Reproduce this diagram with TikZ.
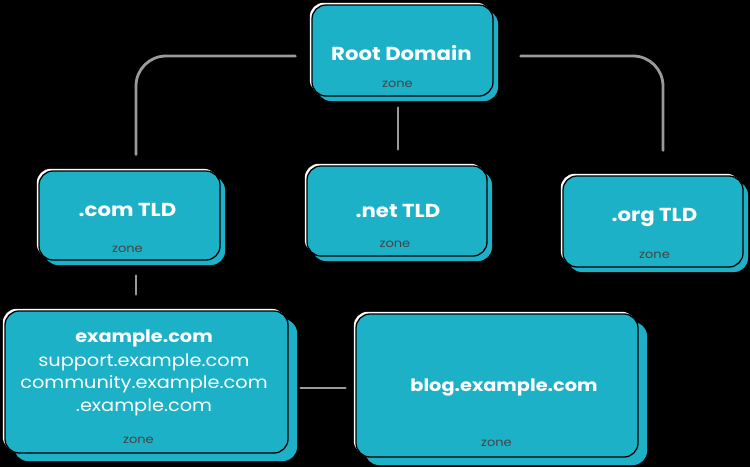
\documentclass[tikz,border=0pt]{standalone}
\usepackage{fontspec}
\setmainfont{Poppins}
\newfontfamily\boxfont[FakeStretch=1.13]{Poppins}
\usetikzlibrary{shadows}
\definecolor{tealbox}{HTML}{1CB1C6}
\definecolor{linegrey}{HTML}{9A9A9A}
\definecolor{zonegrey}{HTML}{444444}
\tikzset{
  boxbase/.style={rectangle, rounded corners=14pt, fill=tealbox, draw=black, line width=1.3pt, inner sep=0pt},
  topbox/.style={boxbase,
    general shadow={shadow xshift=-2.2pt, shadow yshift=2.2pt, fill=white},
    general shadow={shadow xshift=5pt, shadow yshift=-5pt, fill=tealbox}},
  lowbox/.style={boxbase,
    general shadow={shadow xshift=-2.2pt, shadow yshift=2.2pt, fill=white},
    general shadow={shadow xshift=9pt, shadow yshift=-8pt, fill=tealbox}},
  title/.style={text=white, font=\boxfont\fontsize{18.8}{22}\selectfont\bfseries, inner sep=0pt, anchor=base},
  lowtitle/.style={text=white, font=\boxfont\fontsize{17.1}{20}\selectfont\bfseries, inner sep=0pt, anchor=base},
  sub/.style={text=white, font=\boxfont\fontsize{17.1}{20}\selectfont, inner sep=0pt, anchor=base},
  zonelab/.style={text=zonegrey, font=\boxfont\fontsize{11.5}{13}\selectfont, inner sep=0pt, anchor=base},
  conn/.style={draw=linegrey, line width=2.8pt, line cap=round, rounded corners=30pt}
}
\begin{document}
\begin{tikzpicture}[x=1pt, y=-1pt]
\fill[black] (0,0) rectangle (750,467);
\useasboundingbox (0,0) rectangle (750,467);

% boxes
\node[topbox, minimum width=181pt, minimum height=91pt] (root) at (402.5,50.5) {};
\node[topbox, minimum width=181pt, minimum height=89pt] (com) at (129.5,215.5) {};
\node[topbox, minimum width=180pt, minimum height=90pt] (net) at (397,211) {};
\node[topbox, minimum width=180pt, minimum height=91pt] (org) at (653,221.5) {};
\node[lowbox, minimum width=283pt, minimum height=142pt] (ex) at (146.5,382) {};
\node[lowbox, minimum width=282pt, minimum height=143pt] (blog) at (497,385.5) {};

% labels
\node[title] (rootlab) at (401.5,60) {Root Domain};
\node[zonelab] (rootzone) at (397.5,87) {zone};
\node[title] (comlab) at (127.5,216) {.com TLD};
\node[zonelab] (comzone) at (127.5,252) {zone};
\node[title] (netlab) at (398,217) {.net TLD};
\node[zonelab] (netzone) at (395,247) {zone};
\node[title] (orglab) at (654.5,221) {.org TLD};
\node[zonelab] (orgzone) at (654.5,258) {zone};
\node[lowtitle] (exlab) at (144,342) {example.com};
\node[sub] (exsub1) at (144,366) {support.example.com};
\node[sub] (exsub2) at (144,388.5) {community.example.com};
\node[sub] (exsub3) at (144,411) {.example.com};
\node[zonelab] (exzone) at (138.5,443) {zone};
\node[lowtitle] (bloglab) at (504,391) {blog.example.com};
\node[zonelab] (blogzone) at (496.5,446) {zone};

% connectors
\draw[conn] ([shift={(-16pt,-5.5pt)}]root.west) -| ([shift={(6.5pt,16pt)}]com.north);
\draw[conn] ([shift={(27pt,-5.5pt)}]root.east) -| ([shift={(10pt,25pt)}]org.north);
\draw[conn] ([shift={(-4.5pt,-11pt)}]root.south) -- ([shift={(1pt,16pt)}]net.north);
\draw[conn] ([shift={(6.5pt,-15pt)}]com.south) -- ([shift={(-10.5pt,16pt)}]ex.north);
\draw[conn] ([shift={(12pt,-6pt)}]ex.east) -- ([shift={(-10pt,-2.5pt)}]blog.west);
\end{tikzpicture}
\end{document}
